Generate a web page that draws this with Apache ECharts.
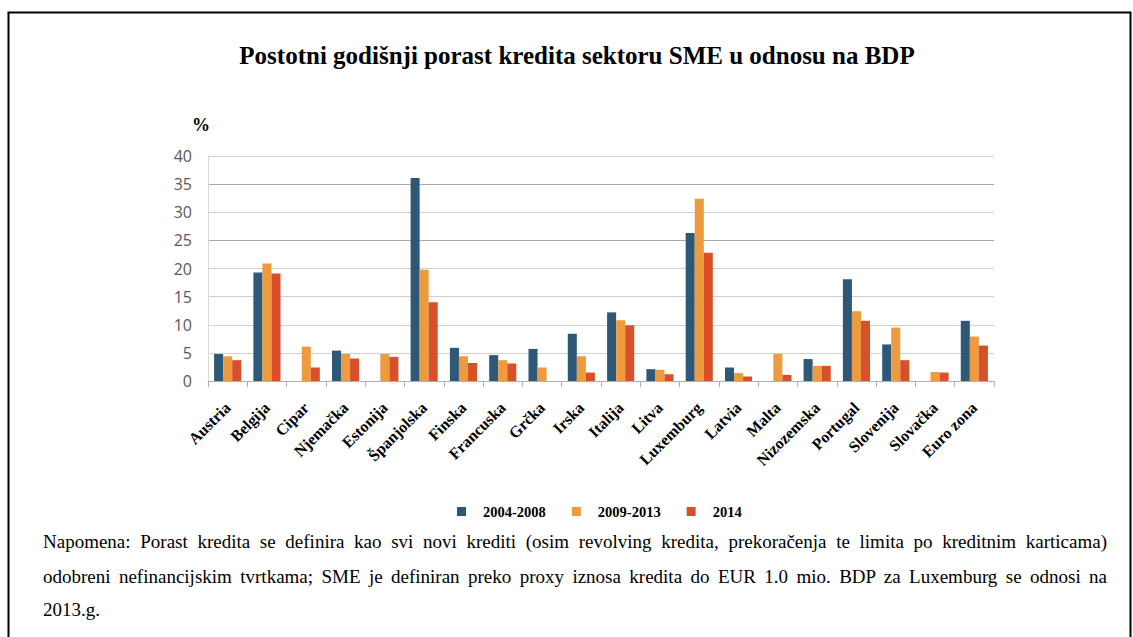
<!DOCTYPE html>
<html>
<head>
<meta charset="utf-8">
<script src="https://cdn.jsdelivr.net/npm/echarts@6/dist/echarts.min.js"></script>
<style>
  html, body { margin: 0; padding: 0; background: #fff; }
  #wrap { position: relative; width: 1133px; height: 637px; overflow: hidden; }
  #chart { position: absolute; left: 0; top: 0; width: 1133px; height: 637px; }
  .note { position: absolute; left: 43px; width: 1064px; font-family: "Liberation Serif", "Times New Roman", serif; font-size: 19px; color: #000; white-space: nowrap; line-height: 22px; }
  .just { text-align: justify; text-align-last: justify; white-space: normal; }
</style>
</head>
<body>
<div id="wrap">
  <div id="chart"></div>
  <div class="note just" style="top:531px;">Napomena: Porast kredita se definira kao svi novi krediti (osim revolving kredita, prekoračenja te limita po kreditnim karticama)</div>
  <div class="note just" style="top:566px;">odobreni nefinancijskim tvrtkama; SME je definiran preko proxy iznosa kredita do EUR 1.0 mio. BDP za Luxemburg se odnosi na</div>
  <div class="note" style="top:599px;">2013.g.</div>
</div>
<script>
const titleText = 'Postotni godišnji porast kredita sektoru SME u odnosu na BDP';
const unitLabel = '%';
const categories = ['Austria','Belgija','Cipar','Njemačka','Estonija','Španjolska','Finska','Francuska','Grčka','Irska','Italija','Litva','Luxemburg','Latvia','Malta','Nizozemska','Portugal','Slovenija','Slovačka','Euro zona'];
const seriesNames = ['2004-2008','2009-2013','2014'];
const s2004_2008 = [4.8, 19.3, null, 5.4, null, 36.1, 5.9, 4.6, 5.7, 8.4, 12.2, 2.1, 26.3, 2.4, null, 3.9, 18.1, 6.5, null, 10.7];
const s2009_2013 = [4.4, 20.9, 6.1, 4.8, 4.8, 19.8, 4.4, 3.7, 2.4, 4.4, 10.8, 2.0, 32.4, 1.4, 4.8, 2.7, 12.4, 9.5, 1.6, 7.9];
const s2014      = [3.7, 19.1, 2.4, 4.0, 4.3, 14.0, 3.2, 3.1, null, 1.5, 9.9, 1.2, 22.8, 0.8, 1.1, 2.7, 10.7, 3.7, 1.5, 6.3];
const yTicks = { min: 0, max: 40, interval: 5 };

const colors = ['#2E5877', '#EE9A3F', '#D8502A'];
const serif = '"Liberation Serif", "Times New Roman", serif';

const chart = echarts.init(document.getElementById('chart'), null, { renderer: 'svg' });
const dataSets = [s2004_2008, s2009_2013, s2014];

chart.setOption({
  animation: false,
  backgroundColor: '#fff',
  color: colors,
  grid: { left: 208, width: 786, top: 156, height: 225, containLabel: false },
  legend: {
    data: seriesNames,
    left: 452,
    top: 499,
    icon: 'rect',
    itemWidth: 9,
    itemHeight: 9,
    itemGap: 26,
    textStyle: { fontFamily: serif, fontWeight: 'bold', fontSize: 14.5, color: '#000', padding: [0, 0, 0, 12] }
  },
  xAxis: {
    type: 'category',
    data: categories,
    axisLine: { lineStyle: { color: '#B0B0B0', width: 1 } },
    axisTick: { show: true, length: 6, alignWithLabel: false, lineStyle: { color: '#B0B0B0' } },
    axisLabel: { interval: 0, rotate: 45, margin: 24, fontFamily: serif, fontWeight: 'bold', fontSize: 16, color: '#000' }
  },
  yAxis: {
    type: 'value',
    min: yTicks.min, max: yTicks.max, interval: yTicks.interval,
    axisLine: { show: true, lineStyle: { color: '#D9D9D9' } },
    axisTick: { show: false },
    axisLabel: { margin: 16, fontFamily: '"Open Sans", sans-serif', fontSize: 16, color: '#595959' },
    splitLine: { lineStyle: { color: ['#D9D9D9','#D0D0D0','#D0D0D0','#D0D0D0','#D0D0D0','#A8A8A8','#D0D0D0','#A8A8A8','#D0D0D0'], width: 1 } }
  },
  series: dataSets.map((d, i) => ({
    name: seriesNames[i],
    type: 'bar',
    data: d,
    barGap: '0%',
    barCategoryGap: '31%',
    itemStyle: { color: colors[i] }
  })),
  graphic: [
    { type: 'rect', shape: { x: 8.5, y: 12.5, width: 1122, height: 700 }, style: { fill: 'none', stroke: '#000', lineWidth: 2 }, silent: true },
    { type: 'text', x: 577, y: 55, style: { text: titleText, font: 'bold 25px ' + serif, fill: '#000', textAlign: 'center', textVerticalAlign: 'middle' } },
    { type: 'text', x: 201, y: 125, style: { text: unitLabel, font: 'bold 18px ' + serif, fill: '#000', textAlign: 'center', textVerticalAlign: 'middle' } }
  ]
});
</script>
</body>
</html>
